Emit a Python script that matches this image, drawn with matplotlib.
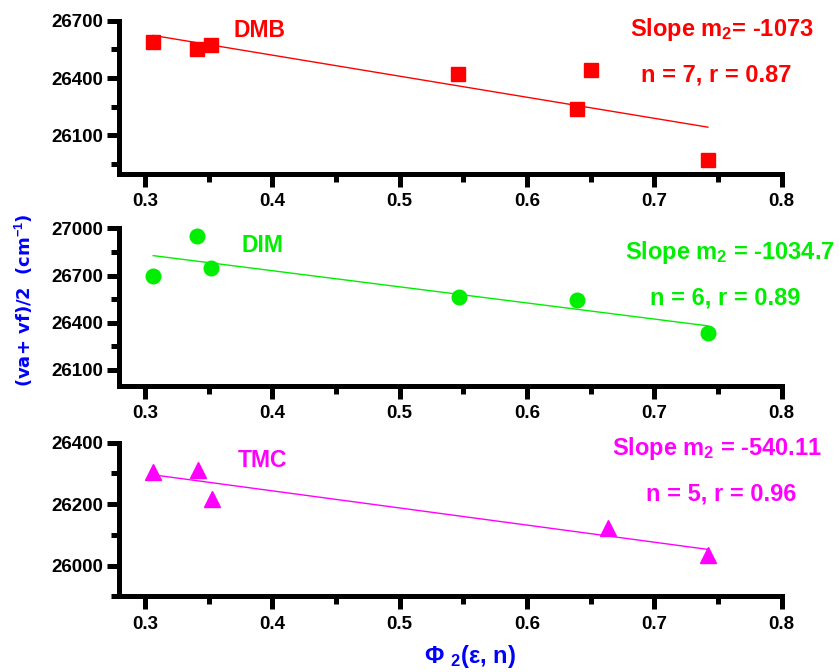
import matplotlib
matplotlib.use('Agg')
import matplotlib.pyplot as plt
import numpy as np
from matplotlib.ticker import MultipleLocator, FormatStrFormatter

plt.rcParams['font.family'] = ['Liberation Sans', 'DejaVu Sans']
plt.rcParams['font.weight'] = 'bold'
plt.rcParams['mathtext.fontset'] = 'custom'
plt.rcParams['mathtext.rm'] = 'Liberation Sans:bold'
plt.rcParams['mathtext.it'] = 'Liberation Sans:bold'
plt.rcParams['mathtext.bf'] = 'Liberation Sans:bold'

# ---- data ----
dmb_x = [0.3065, 0.341, 0.3516, 0.546, 0.639, 0.6505, 0.742]
dmb_y = [26590, 26550, 26573, 26422, 26236, 26440, 25971]
dim_x = [0.3065, 0.341, 0.3516, 0.5466, 0.639, 0.742]
dim_y = [26699, 26951, 26750, 26566, 26543, 26335]
tmc_x = [0.3065, 0.3416, 0.3526, 0.6633, 0.742]
tmc_y = [26306, 26311, 26217, 26122, 26035]

names = ["DMB", "DIM", "TMC"]
slope_texts = ["Slope $m_{2}$= -1073", "Slope $m_{2}$ = -1034.7", "Slope $m_{2}$ = -540.11"]
stat_texts = ["n = 7, r = 0.87", "n = 6, r = 0.89", "n = 5, r = 0.96"]
colors = ["#FF0000", "#00EE00", "#FF00FF"]
markers = ["s", "o", "^"]
msizes = [10, 10.5, 12]
ylims = [(25900, 26700), (26000, 27000), (25900, 26400)]
ymajor = [300, 300, 200]
xlim = (0.28, 0.8)

xs = [dmb_x, dim_x, tmc_x]
ys = [dmb_y, dim_y, tmc_y]

positions = [[0.1424, 0.7418, 0.7893, 0.2274],
             [0.1424, 0.4260, 0.7893, 0.2343],
             [0.1424, 0.1125, 0.7893, 0.2287]]
name_pos = [(0.212, 0.891), (0.216, 0.851), (0.216, 0.844)]
slope_pos = [(0.909, 0.900), (0.922, 0.803), (0.903, 0.920)]
stat_pos = [(0.901, 0.601), (0.914, 0.513), (0.908, 0.621)]

fig = plt.figure(figsize=(8.39, 6.72), dpi=100)

for i in range(3):
    ax = fig.add_axes(positions[i])
    x = np.array(xs[i]); y = np.array(ys[i])
    m, b = np.polyfit(x, y, 1)
    lx = np.array([x.min(), x.max()])
    ax.plot(lx, m * lx + b, color=colors[i], lw=1.0, zorder=2)
    ax.plot(x, y, linestyle='none', marker=markers[i], ms=msizes[i],
            color=colors[i], mec=colors[i], zorder=3, clip_on=False)
    ax.set_xlim(*xlim)
    ax.set_ylim(*ylims[i])
    ax.xaxis.set_major_locator(MultipleLocator(0.1))
    ax.xaxis.set_minor_locator(MultipleLocator(0.05))
    ax.yaxis.set_major_locator(MultipleLocator(ymajor[i]))
    ax.yaxis.set_minor_locator(MultipleLocator(ymajor[i] / 2))
    ax.xaxis.set_major_formatter(FormatStrFormatter('%.1f'))
    ax.yaxis.set_major_formatter(FormatStrFormatter('%d'))
    for s in ['top', 'right']:
        ax.spines[s].set_visible(False)
    for s in ['left', 'bottom']:
        ax.spines[s].set_linewidth(3.6)
        ax.spines[s].set_capstyle('projecting')
    ax.tick_params(which='major', length=9, width=3.6, labelsize=13.5)
    ax.tick_params(which='minor', length=5.5, width=3.6)
    ax.tick_params(axis='x', which='major', pad=5)
    ax.tick_params(axis='y', which='major', pad=3)
    for lab in ax.get_xticklabels() + ax.get_yticklabels():
        lab.set_fontweight('bold')
    ax.text(*name_pos[i], names[i], transform=ax.transAxes, ha='center', va='baseline',
            fontsize=16.5, color=colors[i], fontweight='bold')
    ax.text(*slope_pos[i], slope_texts[i], transform=ax.transAxes, ha='center', va='baseline',
            fontsize=17, color=colors[i], fontweight='bold')
    ax.text(*stat_pos[i], stat_texts[i], transform=ax.transAxes, ha='center', va='baseline',
            fontsize=17, color=colors[i], fontweight='bold')

fig.text(24 / 839, 1 - 300 / 672, "(va+ vf)/2  (cm$^{-1}$)", rotation=90,
         ha='center', va='center', fontsize=13, color='#0000FF',
         family=['DejaVu Sans'], fontweight='bold')
fig.text(470 / 839, 1 - 663 / 672, r"$\Phi\ _{2}$(ε, n)", ha='center', va='baseline',
         fontsize=17, color='#0000FF', fontweight='bold')

fig.savefig('out.png', dpi=100)
